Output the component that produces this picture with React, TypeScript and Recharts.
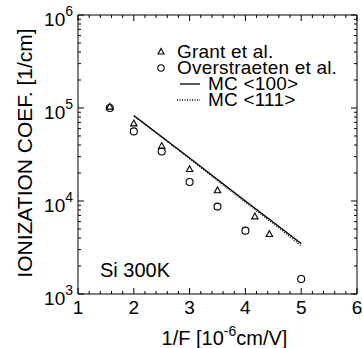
import React from "react";
import { ComposedChart, Scatter, Line, XAxis, YAxis } from "recharts";

// Grant et al. (triangles)
const grantX = [1.57, 2.0, 2.5, 3.0, 3.5, 4.17, 4.43];
const grantY = [1.03e5, 6.8e4, 3.9e4, 2.2e4, 1.3e4, 6.8e3, 4.4e3];

// Overstraeten et al. (circles)
const overX = [1.57, 2.0, 2.5, 3.0, 3.5, 4.0, 5.0];
const overY = [1.0e5, 5.6e4, 3.4e4, 1.6e4, 8.7e3, 4.8e3, 1.45e3];

// Monte Carlo curves
const mcX = [2.0, 2.5, 3.0, 3.5, 4.0, 4.5, 5.0];
const mc100 = [8.3e4, 4.9e4, 2.9e4, 1.7e4, 1.0e4, 5.9e3, 3.5e3];
const mc111 = [8.2e4, 4.85e4, 2.85e4, 1.65e4, 9.7e3, 5.7e3, 3.3e3];

const xMajor = [1, 2, 3, 4, 5, 6];
const xMinor = [1.2, 1.4, 1.6, 1.8, 2.2, 2.4, 2.6, 2.8, 3.2, 3.4, 3.6, 3.8, 4.2, 4.4, 4.6, 4.8, 5.2, 5.4, 5.6, 5.8];
const yMajor = [1e3, 1e4, 1e5, 1e6];
const yMinor = [1e3, 1e4, 1e5].flatMap((d) => [2, 3, 4, 5, 6, 7, 8, 9].map((m) => m * d));

const grantData = grantX.map((x, i) => ({ x, y: grantY[i] }));
const overData = overX.map((x, i) => ({ x, y: overY[i] }));
const mcData = mcX.map((x, i) => ({ x, mc100: mc100[i], mc111: mc111[i] }));

const FONT = "'Liberation Sans', Arial, Helvetica, sans-serif";
const xTicks = [...xMajor, ...xMinor];
const yTicks = [...yMajor, ...yMinor];

const XTick = ({ x, y, payload, side }: any) => {
  const major = xMajor.includes(payload.value);
  const len = major ? 6 : 3;
  const dir = side === "bottom" ? -1 : 1;
  return (
    <g>
      <line x1={x} y1={y} x2={x} y2={y + dir * len} stroke="#000" strokeWidth={1} />
      {side === "bottom" && major && (
        <text x={x} y={y + 20} textAnchor="middle" fontSize={19} fontFamily={FONT} fill="#000">
          {payload.value}
        </text>
      )}
    </g>
  );
};

const YTick = ({ x, y, payload, side }: any) => {
  const major = yMajor.includes(payload.value);
  const len = major ? 6 : 3;
  const dir = side === "left" ? 1 : -1;
  const exp = Math.round(Math.log10(payload.value));
  return (
    <g>
      <line x1={x} y1={y} x2={x + dir * len} y2={y} stroke="#000" strokeWidth={1} />
      {side === "left" && major && (
        <text x={x - 5} y={y + 11} textAnchor="end" fontFamily={FONT} fill="#000">
          <tspan fontSize={19}>10</tspan>
          <tspan fontSize={14} dy={-10}>{exp}</tspan>
        </text>
      )}
    </g>
  );
};

const Triangle = ({ cx, cy }: any) =>
  cx == null ? null : (
    <path d={`M${cx},${cy - 3.5} L${cx + 3.2},${cy + 2.3} L${cx - 3.2},${cy + 2.3} Z`} fill="none" stroke="#000" strokeWidth={1.1} />
  );

const Circle = ({ cx, cy }: any) =>
  cx == null ? null : <circle cx={cx} cy={cy} r={3.5} fill="none" stroke="#000" strokeWidth={1.1} />;

const XLabel = ({ viewBox }: any) => (
  <text x={viewBox.x + viewBox.width / 2 + 7} y={345} textAnchor="middle" fontFamily={FONT} fill="#000">
    <tspan fontSize={20}>1/F [10</tspan>
    <tspan fontSize={14} dy={-9}>-6</tspan>
    <tspan fontSize={20} dy={9}>cm/V]</tspan>
  </text>
);

const YLabel = () => (
  <text x={32} y={153} transform="rotate(-90, 32, 153)" textAnchor="middle" fontSize={21} fontFamily={FONT} fill="#000">
    IONIZATION COEF. [1/cm]
  </text>
);

const legendRows = [
  { name: "Grant et al.", kind: "tri" },
  { name: "Overstraeten et al.", kind: "circ" },
  { name: "MC <100>", kind: "solid" },
  { name: "MC <111>", kind: "dot" },
];

const ChartLegend = () => (
  <div style={{ position: "absolute", left: 155, top: 44, width: 208, fontFamily: FONT, fontSize: 19, lineHeight: "16px", color: "#000" }}>
    {legendRows.map((r) => (
      <div key={r.name} style={{ position: "relative", height: 16, whiteSpace: "nowrap" }}>
        <svg width={50} height={16} style={{ position: "absolute", left: 0, top: 0 }}>
          {r.kind === "tri" && <path d="M6,4.5 L9,10 L3,10 Z" fill="none" stroke="#000" strokeWidth={1.1} />}
          {r.kind === "circ" && <circle cx={6} cy={8} r={3.2} fill="none" stroke="#000" strokeWidth={1.1} />}
          {r.kind === "solid" && <line x1={25} y1={8} x2={45} y2={8} stroke="#000" strokeWidth={1.3} />}
          {r.kind === "dot" && <line x1={22} y1={8} x2={45} y2={8} stroke="#000" strokeWidth={1.3} strokeDasharray="1 1.5" />}
        </svg>
        <span
          style={{
            position: "absolute",
            left: r.kind === "tri" || r.kind === "circ" ? 22 : 53,
            top: 0,
            letterSpacing: 0.2,
          }}
        >
          {r.name}
        </span>
      </div>
    ))}
  </div>
);

export default function App() {
  return (
    <div style={{ position: "absolute", left: 0, top: 0, width: 363, height: 348, background: "#fff" }}>
      <ComposedChart width={363} height={348} margin={{ top: 14, right: 5, bottom: 0, left: 0 }}>
        <XAxis
          xAxisId="b"
          dataKey="x"
          type="number"
          domain={[1, 6]}
          ticks={xTicks}
          interval={0}
          orientation="bottom"
          height={54}
          tickSize={0}
          tickMargin={0}
          tickLine={false}
          stroke="#000"
          tick={<XTick side="bottom" />}
          label={<XLabel />}
          allowDataOverflow
        />
        <XAxis
          xAxisId="t"
          dataKey="x"
          type="number"
          domain={[1, 6]}
          ticks={xTicks}
          interval={0}
          orientation="top"
          height={1}
          tickSize={0}
          tickMargin={0}
          tickLine={false}
          stroke="#000"
          tick={<XTick side="top" />}
          allowDataOverflow
        />
        <YAxis
          yAxisId="l"
          scale="log"
          type="number"
          domain={[1e3, 1e6]}
          ticks={yTicks}
          interval={0}
          orientation="left"
          width={78}
          tickSize={0}
          tickMargin={0}
          tickLine={false}
          stroke="#000"
          tick={<YTick side="left" />}
          label={<YLabel />}
          allowDataOverflow
        />
        <YAxis
          yAxisId="r"
          scale="log"
          type="number"
          domain={[1e3, 1e6]}
          ticks={yTicks}
          interval={0}
          orientation="right"
          width={1}
          tickSize={0}
          tickMargin={0}
          tickLine={false}
          stroke="#000"
          tick={<YTick side="right" />}
          allowDataOverflow
        />
        <Line
          xAxisId="b"
          yAxisId="l"
          data={mcData}
          dataKey="mc111"
          type="linear"
          stroke="#000"
          strokeWidth={1.3}
          strokeDasharray="1 1.5"
          dot={false}
          isAnimationActive={false}
        />
        <Line
          xAxisId="b"
          yAxisId="l"
          data={mcData}
          dataKey="mc100"
          type="linear"
          stroke="#000"
          strokeWidth={1.3}
          dot={false}
          isAnimationActive={false}
        />
        <Scatter xAxisId="b" yAxisId="l" data={overData} dataKey="y" shape={<Circle />} isAnimationActive={false} />
        <Scatter xAxisId="b" yAxisId="l" data={grantData} dataKey="y" shape={<Triangle />} isAnimationActive={false} />
      </ComposedChart>
      <ChartLegend />
      <div style={{ position: "absolute", left: 100, top: 259, fontFamily: FONT, fontSize: 20, lineHeight: "22px" }}>Si 300K</div>
    </div>
  );
}
